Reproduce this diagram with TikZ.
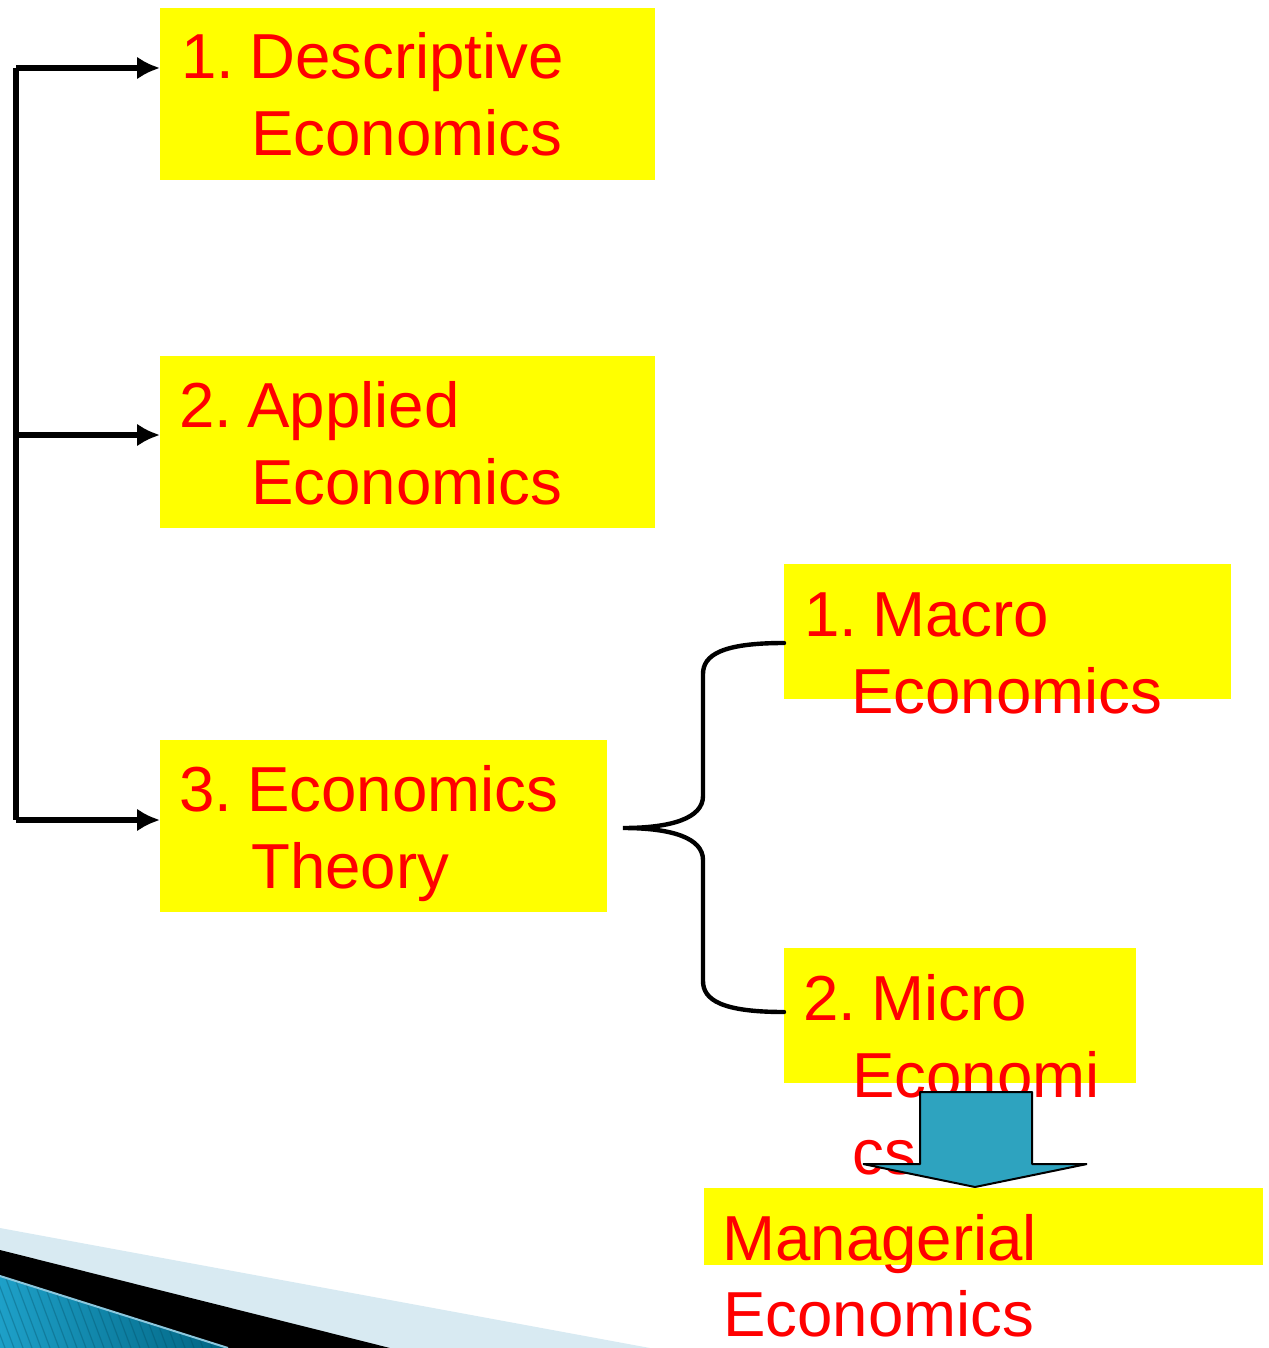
\documentclass[tikz,border=0pt]{standalone}
\usepackage{fontspec}
\setmainfont{Liberation Sans}
\usetikzlibrary{arrows.meta,calc,positioning}
\definecolor{boxyellow}{RGB}{255,255,0}
\definecolor{txtred}{RGB}{255,0,0}
\definecolor{arrowteal}{RGB}{46,163,191}
\definecolor{bandpale}{RGB}{216,234,242}
\definecolor{bandline}{RGB}{140,200,222}
\definecolor{bandteal}{RGB}{30,160,200}
\definecolor{banddeep}{RGB}{0,100,130}
\newcommand{\num}[2]{#1\hspace{0.235em}#2}
\tikzset{
    x=0.5pt, y=-0.5pt,
    box/.style = {fill=boxyellow, draw=none, anchor=north west, inner sep=0pt},
    txt/.style = {text=txtred, anchor=base west, inner sep=0pt,
        font=\fontsize{31.8}{38.5}\selectfont},
    feed/.style = {-{Latex[length=11.5pt,width=11.5pt]}, line width=3pt},
    brace/.style = {line width=2.2pt, line cap=round},
    blockarrow/.style = {fill=arrowteal, draw=black, line width=1pt, miter limit=1}
}

\begin{document}
\begin{tikzpicture}
    \useasboundingbox (0,0) rectangle (1268,1348);

    % yellow boxes
    \node[box, minimum width=247.5pt, minimum height=86pt] (b1) at (160,8) {};
    \node[box, minimum width=247.5pt, minimum height=86pt] (b2) at (160,356) {};
    \node[box, minimum width=223.5pt, minimum height=86pt] (b3) at (160,740) {};
    \node[box, minimum width=223.5pt, minimum height=67.5pt] (b4) at (784,564) {};
    \node[box, minimum width=176pt, minimum height=67.5pt] (b5) at (784,948) {};
    \node[box, minimum width=279.5pt, minimum height=38.5pt] (b6) at (704,1188) {};

    % texts
    \node[txt] (d1) at (181,79) {\num{1.}{Descriptive}};
    \node[txt] (d2) at (251,156) {Economics};
    \node[txt] (a1) at (179,427) {\num{2.}{Applied}};
    \node[txt] (a2) at (251,504) {Economics};
    \node[txt] (e1) at (179,811) {\num{3.}{Economics}};
    \node[txt] (e2) at (251,888) {Theory};
    \node[txt] (ma1) at (804,636) {\num{1.}{Macro}};
    \node[txt] (ma2) at (851,713) {Economics};
    \node[txt] (mi1) at (803,1020) {\num{2.}{Micro}};
    \node[txt] (mi2) at (852,1097) {Economi};
    \node[txt] (mi3) at (852,1174) {cs};
    \node[txt] (mg1) at (722,1260) {Managerial};
    \node[txt] (mg2) at (723,1336) {Economics};

    % trunk with arrows
    \coordinate (t1) at (16,68);
    \coordinate (t2) at (16,435);
    \coordinate (t3) at (16,820);
    \draw[line width=3pt] (t1) -- (t3);
    \draw[feed] (t1) -- (t1 -| b1.west);
    \draw[feed] (t2) -- (t2 -| b2.west);
    \draw[feed] (t3) -- (t3 -| b3.west);

    % brace
    \coordinate (br) at (623,828);
    \coordinate (m1) at (b4.west |- 0,643);
    \coordinate (m2) at (b5.west |- 0,1012);
    \draw[brace] (m1) .. controls (722,643) and (703,655) .. (703,674)
        -- (703,796) .. controls (703,818) and (672,828) .. (br)
        .. controls (672,828) and (703,838) .. (703,860)
        -- (703,981) .. controls (703,1000) and (722,1012) .. (m2);

    % block arrow
    \draw[blockarrow] (920,1092) -- (1032,1092) -- (1032,1164) -- (1087,1164)
        -- (975,1187) -- (863,1164) -- (920,1164) -- cycle;

    % bottom left bands
    \fill[bandpale] (0,1228) -- (650,1348) -- (0,1348) -- cycle;
    \fill[black] (0,1250) -- (390,1348) -- (0,1348) -- cycle;
    \fill[left color=bandteal, right color=banddeep] (0,1276) -- (228,1348) -- (0,1348) -- cycle;
    \begin{scope}
        \clip (0,1276) -- (228,1348) -- (0,1348) -- cycle;
        \foreach \s in {-40,-31,...,240}
            \draw[banddeep!70!black, opacity=0.3, line width=0.6pt] (\s,1276) -- ++(27,72);
    \end{scope}
    \draw[bandline, line width=1pt] (0,1276) -- (228,1348);
\end{tikzpicture}
\end{document}
